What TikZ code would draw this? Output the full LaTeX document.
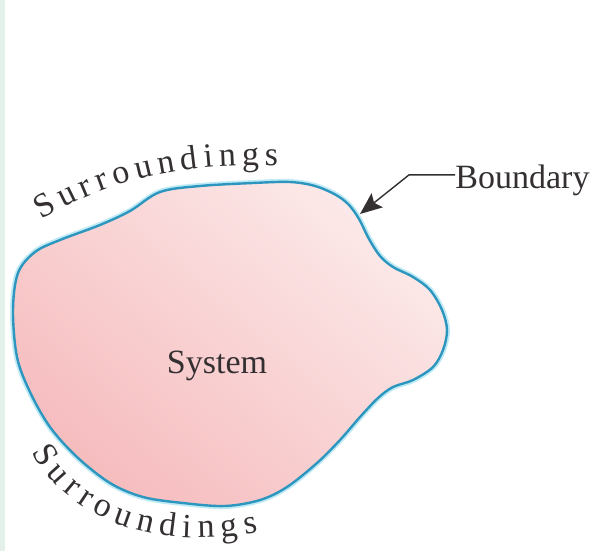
\documentclass[tikz,border=0pt]{standalone}
\usepackage{fontspec}
\setmainfont{Liberation Serif}
\usetikzlibrary{positioning,arrows.meta,decorations.text}

\definecolor{blobdeep}{RGB}{246,188,190}
\definecolor{bloblite}{RGB}{252,233,233}
\definecolor{rim}{RGB}{45,150,190}
\definecolor{rimglow}{RGB}{190,234,246}
\definecolor{ink}{RGB}{52,48,50}
\definecolor{edge}{RGB}{228,241,235}

\begin{document}
\begin{tikzpicture}[x=0.5pt, y=-0.5pt,
  font=\fontsize{17}{20}\selectfont,
  lbl/.style={text=ink, inner sep=0pt},
  arr/.style={-{Stealth[length=11pt, width=9pt, inset=2pt]}, draw=ink, line width=0.7pt},
  surr/.style={decorate, decoration={text along path, text align={fit to path},
      text color=ink, text={|\fontsize{17}{20}\selectfont|#1}}}
]
\useasboundingbox[fill=white] (0,0) rectangle (592,551);
\fill[edge] (0,0) rectangle (5,551);

% system outline
\draw[rim, line width=1.2pt, top color=bloblite, bottom color=blobdeep, shading angle=-40,
      preaction={draw=rimglow, line width=3pt}]
  plot[smooth cycle, tension=0.55] coordinates {
    (13,310) (18,273) (35,252) (60,240) (100,225) (130,211) (160,192) (200,186)
    (253,183) (290,182) (315,186) (336,195) (349,205) (359,219) (369,239)
    (380,256) (393,267) (413,277) (430,290) (442,310) (447,330) (443,350)
    (433,367) (413,380) (393,387) (378,398) (360,417) (340,440) (317,463)
    (287,487) (260,500) (225,506) (183,503) (143,497) (110,483) (77,457)
    (50,427) (30,392) (17,357)};

% labels
\node[lbl] (sys) at (217,366) {System};
\node[lbl, anchor=base west] (bnd) at (455,188) {Boundary};
\coordinate (tip) at (360,214);
\draw[arr] ([yshift=2.5pt]bnd.west) -- ++(-46,0) -- (tip);

% surroundings, along the outline
\path[surr=Surroundings] (42,220) .. controls (100,185) and (170,162) .. (278,166);
\path[surr=Surroundings] (32,452) .. controls (62,510) and (142,554) .. (258,532);
\end{tikzpicture}
\end{document}
